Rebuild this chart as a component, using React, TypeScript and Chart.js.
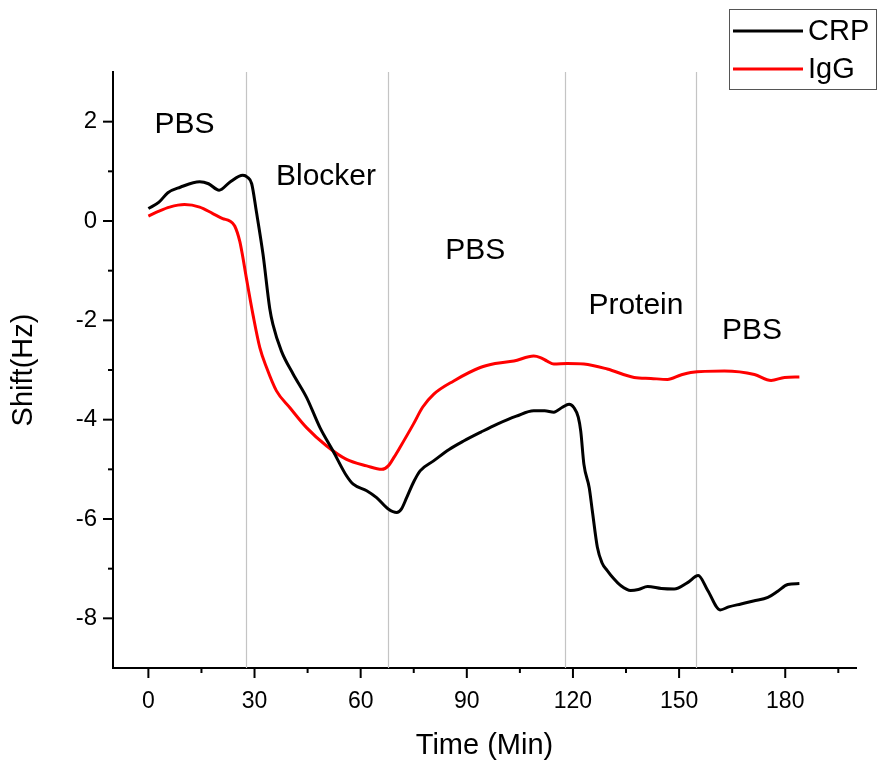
import React, { useEffect, useRef } from 'react';
import { Chart, registerables } from 'chart.js';

Chart.register(...registerables);

// ---- data ----
const crpTime = [0, 3, 5.5, 9, 14.5, 17, 20, 23, 26.7, 28, 29.2, 30.5, 32.4, 34.3, 35.2, 37.6, 40.9, 44.7, 48.5, 52.2, 56, 57.9, 61.7, 64.5, 67.8, 70.2, 71.5, 73, 75, 76.8, 80.6, 85, 89.1, 94, 98.6, 104, 108.9, 112, 114.6, 117, 118.9, 120.3, 121.5, 122.2, 123.1, 124.6, 125.5, 126.9, 128.2, 129.7, 131.5, 133.5, 136.3, 138.5, 141.1, 145, 148.6, 152.4, 155.4, 158.1, 161.6, 164, 167.5, 171, 175.1, 178, 180.7, 184];
const crpShift = [0.25, 0.38, 0.57, 0.68, 0.79, 0.75, 0.62, 0.78, 0.92, 0.88, 0.75, 0.2, -0.67, -1.76, -2.08, -2.62, -3.08, -3.55, -4.16, -4.63, -5.13, -5.3, -5.43, -5.57, -5.8, -5.87, -5.8, -5.57, -5.25, -5.03, -4.83, -4.6, -4.43, -4.25, -4.09, -3.93, -3.82, -3.82, -3.85, -3.75, -3.69, -3.76, -3.95, -4.23, -4.9, -5.37, -5.85, -6.57, -6.88, -7.04, -7.2, -7.34, -7.44, -7.42, -7.36, -7.4, -7.41, -7.28, -7.14, -7.44, -7.83, -7.77, -7.71, -7.65, -7.58, -7.45, -7.32, -7.3];

const iggTime = [0, 3, 6, 10.2, 14.5, 18.2, 21, 23, 24.4, 25.8, 26.5, 27.7, 29.6, 31.5, 33.4, 36.2, 40, 44.7, 50.4, 56, 61.7, 66, 67.8, 69.5, 71.1, 74.9, 77.5, 80.6, 86.3, 93.8, 98, 103.3, 108.9, 110.8, 112.7, 114.6, 118.4, 123.1, 129.7, 137.3, 142, 146.7, 150.5, 153.3, 162.8, 171.3, 176, 179.8, 184];
const iggShift = [0.1, 0.2, 0.28, 0.33, 0.28, 0.15, 0.05, 0.0, -0.1, -0.4, -0.65, -1.15, -1.9, -2.55, -2.95, -3.42, -3.76, -4.16, -4.53, -4.8, -4.93, -5.0, -4.93, -4.75, -4.56, -4.09, -3.75, -3.49, -3.22, -2.95, -2.87, -2.82, -2.72, -2.75, -2.82, -2.88, -2.87, -2.88, -2.98, -3.15, -3.17, -3.19, -3.1, -3.05, -3.02, -3.09, -3.21, -3.15, -3.14];

const seriesNames = ['CRP', 'IgG'];
const seriesColors = ['#000000', '#ff0000'];

const xMajorTicks = [0, 30, 60, 90, 120, 150, 180];
const xMinorTicks = [15, 45, 75, 105, 135, 165, 195];
const yMajorTicks = [-8, -6, -4, -2, 0, 2];
const yMinorTicks = [-7, -5, -3, -1, 1];

const phaseBoundaries = [28, 68, 118, 155];
const phaseLabels = ['PBS', 'Blocker', 'PBS', 'Protein', 'PBS'];
const phaseLabelTime = [10.2, 50.2, 92.4, 137.8, 170.6];
const phaseLabelShift = [1.93, 0.9, -0.6, -1.71, -2.21];

const FONT = 'Arial, "Liberation Sans", Helvetica, sans-serif';

const toPoints = (xs: number[], ys: number[]) => xs.map((x, i) => ({ x, y: ys[i] }));

const overlayPlugin = {
  id: 'overlay',
  beforeDatasetsDraw(chart: any) {
    const { ctx, chartArea, scales } = chart;
    const x = scales.x;
    ctx.save();
    ctx.strokeStyle = '#c4c4c4';
    ctx.lineWidth = 1.2;
    phaseBoundaries.forEach((t) => {
      const px = Math.round(x.getPixelForValue(t)) - 0.5;
      ctx.beginPath();
      ctx.moveTo(px, chartArea.top);
      ctx.lineTo(px, chartArea.bottom);
      ctx.stroke();
    });
    ctx.restore();
  },
  afterDatasetsDraw(chart: any) {
    const { ctx, scales } = chart;
    ctx.save();
    ctx.fillStyle = '#000';
    ctx.font = `30px ${FONT}`;
    ctx.textAlign = 'center';
    ctx.textBaseline = 'middle';
    phaseLabels.forEach((label, i) => {
      ctx.fillText(label, scales.x.getPixelForValue(phaseLabelTime[i]), scales.y.getPixelForValue(phaseLabelShift[i]));
    });
    ctx.restore();
  },
  afterDraw(chart: any) {
    const { ctx, chartArea, scales } = chart;
    ctx.save();
    ctx.strokeStyle = '#000';
    ctx.lineWidth = 2;
    const drawX = (v: number, len: number) => {
      const px = scales.x.getPixelForValue(v);
      ctx.beginPath();
      ctx.moveTo(px, chartArea.bottom);
      ctx.lineTo(px, chartArea.bottom + len);
      ctx.stroke();
    };
    const drawY = (v: number, len: number) => {
      const py = scales.y.getPixelForValue(v);
      ctx.beginPath();
      ctx.moveTo(chartArea.left, py);
      ctx.lineTo(chartArea.left - len, py);
      ctx.stroke();
    };
    xMajorTicks.forEach((v) => drawX(v, 10));
    xMinorTicks.forEach((v) => drawX(v, 5));
    yMajorTicks.forEach((v) => drawY(v, 10));
    yMinorTicks.forEach((v) => drawY(v, 5));

    // legend
    const boxX = 729.5, boxY = 9.5, boxW = 147, boxH = 80;
    ctx.lineWidth = 1;
    ctx.strokeStyle = '#555';
    ctx.strokeRect(boxX, boxY, boxW, boxH);
    ctx.font = `29px ${FONT}`;
    ctx.textAlign = 'left';
    ctx.textBaseline = 'middle';
    seriesNames.forEach((name, i) => {
      const y = 31 + i * 38;
      ctx.strokeStyle = seriesColors[i];
      ctx.lineWidth = 3;
      ctx.beginPath();
      ctx.moveTo(733, y);
      ctx.lineTo(803, y);
      ctx.stroke();
      ctx.fillStyle = '#000';
      ctx.fillText(name, 808, y + 1);
    });
    ctx.restore();
  },
};

export default function App() {
  const canvasRef = useRef<HTMLCanvasElement | null>(null);

  useEffect(() => {
    if (!canvasRef.current) return;
    const chart = new Chart(canvasRef.current, {
      type: 'line',
      data: {
        datasets: [
          {
            label: seriesNames[0],
            data: toPoints(crpTime, crpShift),
            borderColor: seriesColors[0],
            borderWidth: 3,
            pointRadius: 0,
            tension: 0.3,
            cubicInterpolationMode: 'monotone',
          },
          {
            label: seriesNames[1],
            data: toPoints(iggTime, iggShift),
            borderColor: seriesColors[1],
            borderWidth: 3,
            pointRadius: 0,
            tension: 0.3,
            cubicInterpolationMode: 'monotone',
          },
        ],
      },
      options: {
        animation: false,
        responsive: false,
        devicePixelRatio: 1,
        layout: { padding: { left: 0, top: 72, right: 24, bottom: 0 } },
        plugins: {
          legend: { display: false },
          tooltip: { enabled: false },
        },
        scales: {
          x: {
            type: 'linear',
            min: -10,
            max: 200,
            afterBuildTicks: (scale: any) => { scale.ticks = xMajorTicks.map((v) => ({ value: v })); },
            afterFit: (scale: any) => { scale.height = 97; },
            border: { display: true, color: '#000', width: 2 },
            grid: { drawOnChartArea: false, tickColor: 'rgba(0,0,0,0)', tickLength: 10 },
            ticks: {
              autoSkip: false,
              maxRotation: 0,
              padding: 10,
              color: '#000',
              font: { family: FONT, size: 23 },
              callback: (v: any) => String(v),
            },
            title: {
              display: true,
              text: 'Time (Min)',
              color: '#000',
              font: { family: FONT, size: 29 },
              padding: { top: 0, bottom: 2 },
            },
          },
          y: {
            type: 'linear',
            min: -9,
            max: 3,
            afterBuildTicks: (scale: any) => { scale.ticks = yMajorTicks.map((v) => ({ value: v })); },
            afterFit: (scale: any) => { scale.width = 113; },
            border: { display: true, color: '#000', width: 2 },
            grid: { drawOnChartArea: false, tickColor: 'rgba(0,0,0,0)', tickLength: 10 },
            ticks: {
              autoSkip: false,
              padding: 6,
              color: '#000',
              font: { family: FONT, size: 24 },
              callback: (v: any) => String(v),
            },
            title: {
              display: true,
              text: 'Shift(Hz)',
              color: '#000',
              font: { family: FONT, size: 29 },
              padding: { top: 7, bottom: 0 },
            },
          },
        },
      } as any,
      plugins: [overlayPlugin],
    });
    return () => chart.destroy();
  }, []);

  return (
    <div style={{ position: 'absolute', left: 0, top: 0, width: 880, height: 765, background: '#fff' }}>
      <canvas ref={canvasRef} width={880} height={765} style={{ display: 'block' }} />
    </div>
  );
}
